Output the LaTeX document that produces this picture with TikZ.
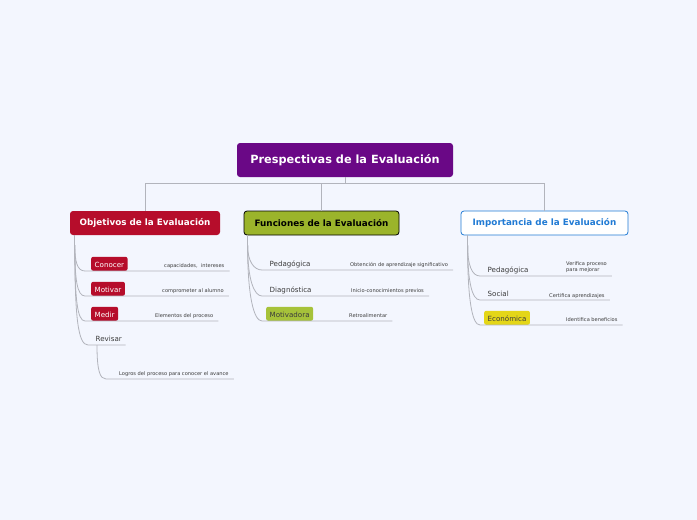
\documentclass[tikz,border=0pt]{standalone}
\usepackage{fontspec}
\setmainfont{DejaVu Sans}
\usepackage{tikz}
\usetikzlibrary{positioning}

\definecolor{bgblue}{RGB}{243,246,254}
\definecolor{rootpurple}{RGB}{106,8,134}
\definecolor{objred}{RGB}{182,13,43}
\definecolor{fungreen}{RGB}{155,180,43}
\definecolor{motgreen}{RGB}{166,194,58}
\definecolor{impblue}{RGB}{32,122,212}
\definecolor{ecoyellow}{RGB}{228,214,24}
\definecolor{linegray}{RGB}{178,180,188}
\definecolor{darktext}{RGB}{60,60,60}

\begin{document}
\begin{tikzpicture}[x=1pt,y=-1pt,
  link/.style={draw=linegray,line width=0.8pt},
  topic/.style={rounded corners=3pt,minimum height=24pt,inner xsep=5pt,font=\fontsize{8.8}{10}\selectfont\bfseries},
  tag/.style={rounded corners=2pt,minimum height=14pt,text height=6.6pt,text depth=0pt,inner xsep=3.5pt,anchor=south west,text=darktext,font=\fontsize{7.1}{8}\selectfont},
  note/.style={anchor=base west,inner sep=1pt,text=darktext,font=\fontsize{5.1}{6}\selectfont}]
\fill[bgblue] (0,0) rectangle (697,520);
\useasboundingbox (0,0) rectangle (697,520);

% main topic and the three branches
\node[topic,fill=rootpurple,text=white,minimum width=216pt,minimum height=34pt,font=\fontsize{11.3}{13}\selectfont\bfseries] (root) at (345,160) {Prespectivas de la Evaluación};
\node[topic,fill=objred,text=white,minimum width=150pt] (obj) at (145,223) {Objetivos de la Evaluación};
\node[topic,fill=fungreen,draw=black,line width=0.8pt,text=black,minimum width=155pt] (fun) at (321.5,223) {Funciones de la Evaluación};
\node[topic,fill=white,draw=impblue,line width=0.8pt,text=impblue,minimum width=167pt] (imp) at (544.5,223) {Importancia de la Evaluación};
\coordinate (bar) at ([yshift=-6pt]root.south);
\draw[link] (root.south) -- (bar);
\draw[link] (bar) -| (obj.north);
\draw[link] (bar) -| (fun.north);
\draw[link] (bar) -| (imp.north);

% Objetivos
\node[tag,fill=objred,text=white] (conocer) at (91,271) {Conocer};
\node[tag,fill=objred,text=white] (motivar) at (91,296) {Motivar};
\node[tag,fill=objred,text=white] (medir) at (91,321) {Medir};
\node[tag] (revisar) at (92,345) {Revisar};
\node[note] (capa) at (163,267) {capacidades,\ \ intereses};
\node[note] (compro) at (161,292) {comprometer al alumno};
\node[note] (elem) at (154,317) {Elementos del proceso};
\node[note] (logros) at (118,375) {Logros del proceso para conocer el avance};
\coordinate (objfoot) at ([xshift=5pt,yshift=-10pt]obj.south west);
\draw[link] ([xshift=5pt]obj.south west) -- (objfoot);
\draw[link] (objfoot) .. controls +(0,16) and +(-8,0) .. ([xshift=-6pt]conocer.south west) -- ([xshift=4pt]conocer.south west -| capa.east);
\draw[link] (objfoot) .. controls +(0,34) and +(-8,0) .. ([xshift=-6pt]motivar.south west) -- ([xshift=4pt]motivar.south west -| compro.east);
\draw[link] (objfoot) .. controls +(0,52) and +(-8,0) .. ([xshift=-6pt]medir.south west) -- ([xshift=4pt]medir.south west -| elem.east);
\draw[link] (objfoot) .. controls +(0,72) and +(-10,0) .. ([xshift=-4pt]revisar.south west) -- (revisar.south east);
\draw[link] ([xshift=5pt]revisar.south west) .. controls +(0,26) and +(-6,0) .. ([xshift=14pt,yshift=-34pt]revisar.south west) -- ([xshift=4pt,yshift=-34pt]revisar.south west -| logros.east);

% Funciones
\node[tag] (fped) at (266,270) {Pedagógica};
\node[tag] (fdiag) at (266,296) {Diagnóstica};
\node[tag,fill=motgreen] (fmot) at (266,321) {Motivadora};
\node[note] (obten) at (349,266.5) {Obtención de aprendizaje significativo};
\node[note] (inicio) at (350,292) {Inicio-conocimientos previos};
\node[note] (retro) at (348,317) {Retroalimentar};
\coordinate (funfoot) at ([xshift=4pt,yshift=-10pt]fun.south west);
\draw[link] ([xshift=4pt]fun.south west) -- (funfoot);
\draw[link] (funfoot) .. controls +(0,16) and +(-8,0) .. ([xshift=-4pt]fped.south west) -- ([xshift=4pt]fped.south west -| obten.east);
\draw[link] (funfoot) .. controls +(0,34) and +(-8,0) .. ([xshift=-4pt]fdiag.south west) -- ([xshift=4pt]fdiag.south west -| inicio.east);
\draw[link] (funfoot) .. controls +(0,52) and +(-8,0) .. ([xshift=-4pt]fmot.south west) -- ([xshift=4pt]fmot.south west -| retro.east);

% Importancia
\node[tag] (iped) at (484,276) {Pedagógica};
\node[tag] (isoc) at (484,300) {Social};
\node[tag,fill=ecoyellow] (ieco) at (484,325) {Económica};
\node[note,anchor=south west,align=left] (verif) at (565,274) {Verifica proceso\\para mejorar};
\node[note] (certif) at (548,297) {Certifica aprendizajes};
\node[note] (ident) at (565,321) {Identifica beneficios};
\coordinate (impfoot) at ([xshift=7pt,yshift=-10pt]imp.south west);
\draw[link] ([xshift=7pt]imp.south west) -- (impfoot);
\draw[link] (impfoot) .. controls +(0,20) and +(-8,0) .. ([xshift=-4pt]iped.south west) -- ([xshift=4pt]iped.south west -| verif.east);
\draw[link] (impfoot) .. controls +(0,36) and +(-8,0) .. ([xshift=-4pt]isoc.south west) -- ([xshift=4pt]isoc.south west -| certif.east);
\draw[link] (impfoot) .. controls +(0,54) and +(-8,0) .. ([xshift=-4pt]ieco.south west) -- ([xshift=4pt]ieco.south west -| ident.east);
\end{tikzpicture}
\end{document}
